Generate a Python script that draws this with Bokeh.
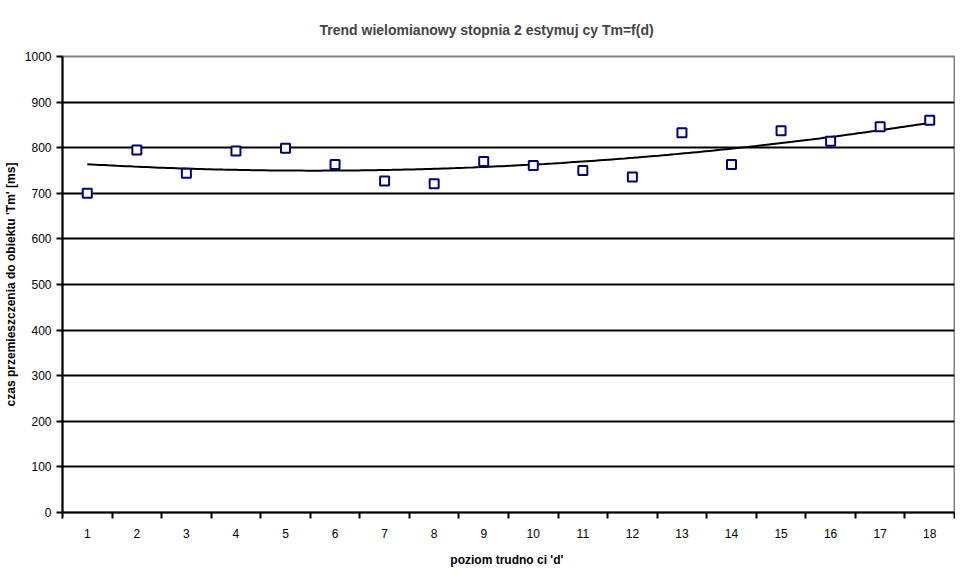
import numpy as np
from bokeh.plotting import figure
from bokeh.models import FixedTicker, Range1d, Title
from bokeh.embed import file_html
from bokeh.resources import INLINE

categories = list(range(1, 19))
tick_labels = [str(c) for c in categories]
tm_values = [700, 795, 744, 793, 799, 763, 727, 721, 770, 761, 750, 736, 833, 763, 837, 814, 846, 860]
y_ticks = [0, 100, 200, 300, 400, 500, 600, 700, 800, 900, 1000]
title_text = "Trend wielomianowy stopnia 2 estymuj  cy Tm=f(d)"

# second-order polynomial trend (as in the spreadsheet trendline)
coef = np.polyfit(categories, tm_values, 2)
xt = np.linspace(1, 18, 200)
yt = np.polyval(coef, xt)

FONT = "Liberation Sans"

p = figure(width=955, height=569, output_backend="svg", toolbar_location=None,
           x_range=Range1d(0.5, 18.5), y_range=Range1d(0, 1000),
           min_border_left=59, min_border_right=1, min_border_top=56, min_border_bottom=54)

p.title = Title(text=title_text, align="left",
                text_font=FONT, text_font_size="14px", text_font_style="bold",
                offset=257, standoff=38)

p.line(xt, yt, line_color="black", line_width=2)
p.scatter(categories, tm_values, marker="square", size=9, line_color="#000080",
          fill_color="white", line_width=2)

p.xaxis.ticker = FixedTicker(ticks=categories, minor_ticks=[c - 0.5 for c in categories] + [18.5])
p.xaxis.major_label_overrides = {c: l for c, l in zip(categories, tick_labels)}
p.xaxis.major_tick_out = 0
p.xaxis.major_tick_in = 0
p.xaxis.minor_tick_out = 6
p.xaxis.minor_tick_in = 0
p.xaxis.minor_tick_line_width = 2
p.xaxis.minor_tick_line_color = "black"
p.xaxis.major_label_standoff = 10
p.xaxis.axis_label = "poziom trudno  ci 'd'"

p.yaxis.ticker = FixedTicker(ticks=y_ticks)
p.yaxis.major_tick_out = 6
p.yaxis.major_tick_in = 0
p.yaxis.minor_tick_out = 0
p.yaxis.minor_tick_in = 0
p.yaxis.major_tick_line_width = 2
p.yaxis.major_label_standoff = 5
p.yaxis.axis_label = "czas przemieszczenia do obiektu 'Tm' [ms]"

for ax in (p.xaxis[0], p.yaxis[0]):
    ax.axis_line_color = "black"
    ax.axis_line_width = 2
    ax.major_tick_line_color = "black"
    ax.major_label_text_font = FONT
    ax.major_label_text_font_size = "12px"
    ax.major_label_text_color = "black"
    ax.axis_label_text_font = FONT
    ax.axis_label_text_font_size = "12px"
    ax.axis_label_text_font_style = "bold"
    ax.axis_label_text_color = "black"
p.xaxis.axis_label_standoff = 12
p.yaxis.axis_label_standoff = 4

p.xgrid.visible = False
p.ygrid.ticker = FixedTicker(ticks=y_ticks[1:-1])
p.ygrid.grid_line_color = "black"
p.ygrid.grid_line_width = 2

p.outline_line_color = "#808080"
p.outline_line_width = 2
p.background_fill_color = "white"
p.border_fill_color = "white"

open("out.html", "w").write(file_html(p, INLINE))
